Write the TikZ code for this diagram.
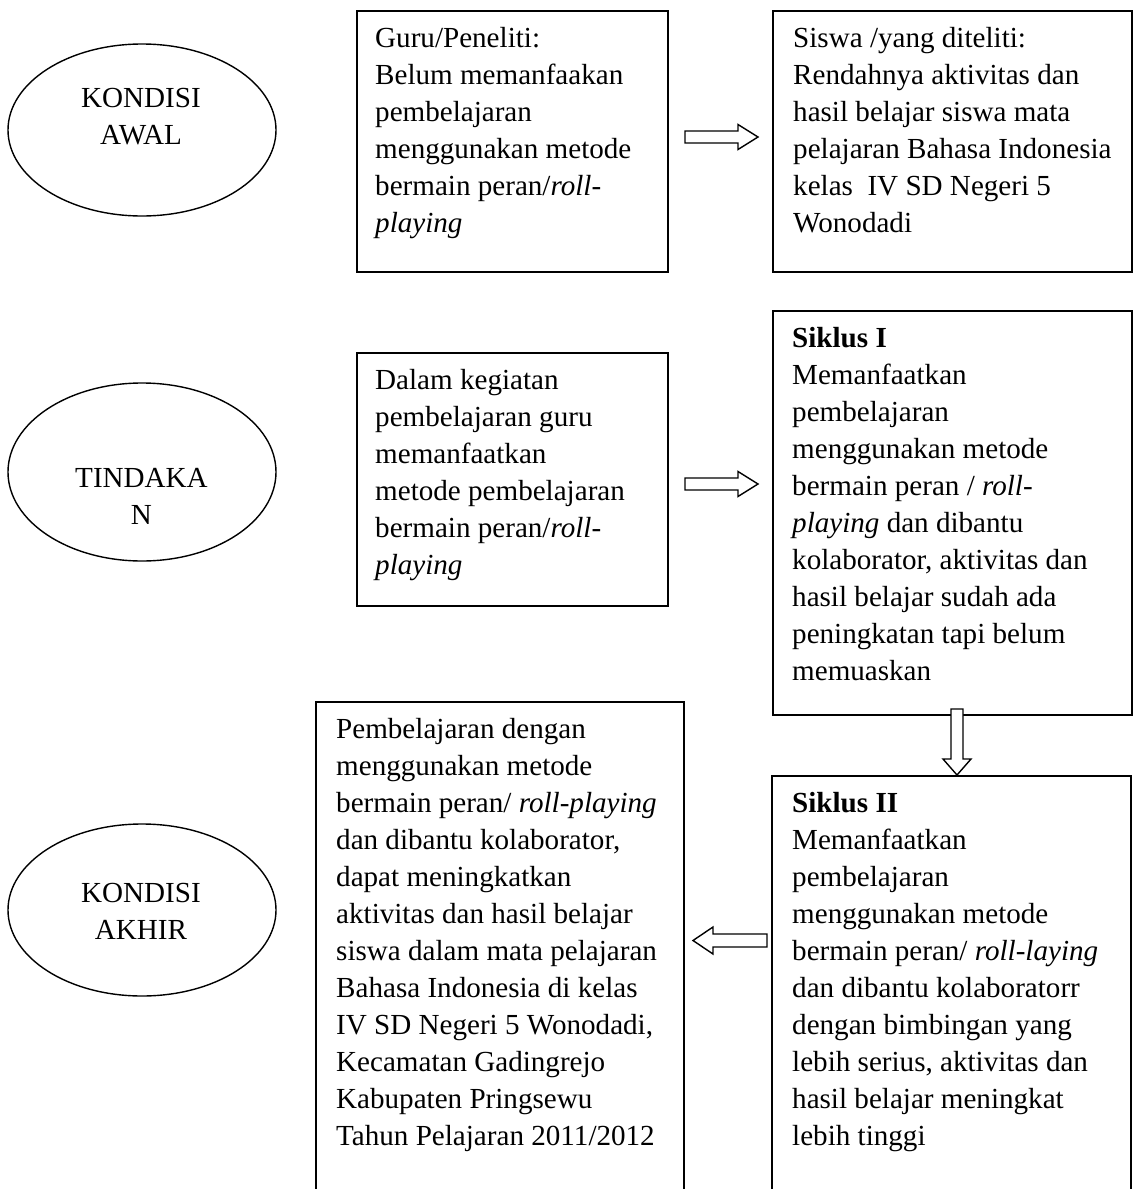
\documentclass[tikz,border=0pt]{standalone}
\usepackage{fontspec}
\setmainfont{Liberation Serif}
\usetikzlibrary{shapes.geometric}
\newcommand\fsz{\fontsize{29.1}{37}\selectfont}
\tikzset{
 boxed/.style={draw, line width=1.6pt, rectangle, inner sep=0pt, anchor=north west},
 openbox/.style={draw, line width=1.6pt},
 oval/.style={draw, line width=1.4pt, ellipse, inner sep=0pt, minimum width=268pt, minimum height=172pt},
 txt/.style={anchor=north west, inner sep=0pt, align=left, font=\fsz},
 ctxt/.style={anchor=north, inner sep=0pt, align=center, font=\fsz},
 blockarrow/.style={draw, line width=1.4pt, fill=white, line join=miter},
}
\begin{document}
\begin{tikzpicture}[x=1pt,y=-1pt]
\useasboundingbox (0,0) rectangle (1133,1189);
\fill[white] (0,0) rectangle (1133,1189);

% ellipses
\node[oval] (e1) at (142,130) {};
\node[ctxt] (e1t) at (141,81.6) {\strut KONDISI\\AWAL};
\node[oval, minimum height=178pt] (e2) at (142,472) {};
\node[ctxt] (e2t) at (141.5,461.1) {\strut TINDAKA\\N};
\node[oval] (e3) at (142,910) {};
\node[ctxt] (e3t) at (141,876.1) {\strut KONDISI\\AKHIR};

% boxes
\node[boxed, minimum width=311pt, minimum height=261pt] (b1) at (356,10) {};
\node[boxed, minimum width=359pt, minimum height=261pt] (b2) at (772,10) {};
\node[boxed, minimum width=311pt, minimum height=253pt] (b3) at (356,352) {};
\node[boxed, minimum width=359pt, minimum height=404pt] (b4) at (772,310) {};
\coordinate (b5nw) at (772,776);
\coordinate (b5ne) at (1131,776);
\draw[openbox] (772,1200) -- (b5nw) -- (b5ne) -- (1131,1200);
\coordinate (b6nw) at (316,702);
\coordinate (b6ne) at (684,702);
\draw[openbox] (316,1200) -- (b6nw) -- (b6ne) -- (684,1200);

% texts
\node[txt] (t1) at (375,21.1) {\strut Guru/Peneliti:\\Belum memanfaakan\\pembelajaran\\menggunakan metode\\bermain peran/\textit{roll-}\\\textit{playing}};
\node[txt] (t2) at (793,21.1) {\strut Siswa /yang diteliti:\\Rendahnya aktivitas dan\\hasil belajar siswa mata\\pelajaran Bahasa Indonesia\\kelas\ \ IV SD Negeri 5\\Wonodadi};
\node[txt] (t3) at (375,363.1) {\strut Dalam kegiatan\\pembelajaran guru\\memanfaatkan\\metode pembelajaran\\bermain peran/\textit{roll-}\\\textit{playing}};
\node[txt] (t4) at (792,321.1) {\strut\textbf{Siklus I}\\Memanfaatkan\\pembelajaran\\menggunakan metode\\bermain peran / \textit{roll-}\\\textit{playing} dan dibantu\\kolaborator, aktivitas dan\\hasil belajar sudah ada\\peningkatan tapi belum\\memuaskan};
\node[txt] (t5) at (792,786.1) {\strut\textbf{Siklus II}\\Memanfaatkan\\pembelajaran\\menggunakan metode\\bermain peran/ \textit{roll-laying}\\dan dibantu kolaboratorr\\dengan bimbingan yang\\lebih serius, aktivitas dan\\hasil belajar meningkat\\lebih tinggi};
\node[txt] (t6) at (336,712.1) {\strut Pembelajaran dengan\\menggunakan metode\\bermain peran/ \textit{roll-playing}\\dan dibantu kolaborator,\\dapat meningkatkan\\aktivitas dan hasil belajar\\siswa dalam mata pelajaran\\Bahasa Indonesia di kelas\\IV SD Negeri 5 Wonodadi,\\Kecamatan Gadingrejo\\Kabupaten Pringsewu\\Tahun Pelajaran 2011/2012};

% block arrows
\coordinate (a1) at (685,137);
\draw[blockarrow] (a1) ++(0,-6) -- ++(53,0) -- ++(0,-6.5) -- ++(20,12.5) -- ++(-20,12.5) -- ++(0,-6.5) -- ++(-53,0) -- cycle;
\coordinate (a2) at (685,484);
\draw[blockarrow] (a2) ++(0,-6) -- ++(53,0) -- ++(0,-6.5) -- ++(20,12.5) -- ++(-20,12.5) -- ++(0,-6.5) -- ++(-53,0) -- cycle;
\coordinate (a3) at (957,709);
\draw[blockarrow] (a3) ++(-6,0) -- ++(0,50) -- ++(-8,0) -- ++(14,16) -- ++(14,-16) -- ++(-8,0) -- ++(0,-50) -- cycle;
\coordinate (a4) at (693,940.5);
\draw[blockarrow] (a4) -- ++(20,-13.5) -- ++(0,7) -- ++(54,0) -- ++(0,13) -- ++(-54,0) -- ++(0,7) -- cycle;
\end{tikzpicture}
\end{document}
